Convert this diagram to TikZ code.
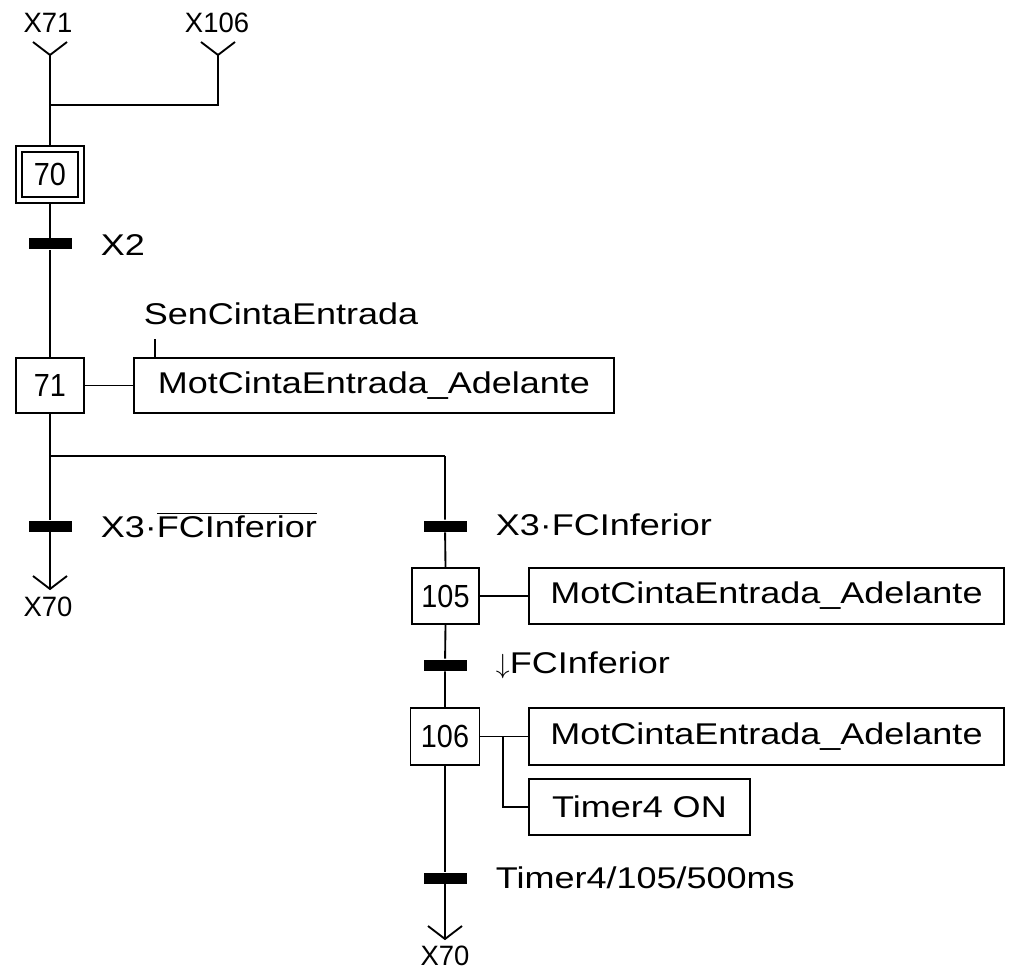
\documentclass[tikz,border=0pt]{standalone}
\usepackage{fontspec}
\setmainfont[FakeStretch=1.2]{Liberation Sans}
\newfontfamily\stepfont[FakeStretch=0.9]{Liberation Sans}
\newfontfamily\labfont[FakeStretch=0.98]{Liberation Sans}
\newcommand{\mainsize}{\fontsize{22.5}{27}\selectfont}
\newcommand{\ovl}[1]{$\overline{\mbox{#1}}$}
\begin{document}
\begin{tikzpicture}[x=0.75pt,y=-0.75pt,line width=1.4pt,
  stepbox/.style={draw,inner sep=0pt,minimum width=68*.75pt,minimum height=56*.75pt,
    font=\stepfont\fontsize{24}{24}\selectfont},
  actbox/.style={draw,inner sep=0pt,minimum height=56*.75pt,anchor=west,font=\mainsize},
  trbar/.style={fill=black,draw=none,inner sep=0pt,minimum width=43*.75pt,minimum height=11*.75pt},
  cond/.style={anchor=west,inner sep=0pt,font=\mainsize},
  xlab/.style={inner sep=0pt,font=\labfont\fontsize{21}{22}\selectfont}]
\useasboundingbox (0,0) rectangle (1009,973);
% top convergence
\node[xlab] (x71) at (48,23) {X71};
\node[xlab] (x106) at (217,23) {X106};
\coordinate (v1) at (50,55);
\coordinate (v2) at (218,55);
\coordinate (j1) at (50,105);
\draw (v1) ++(-17,-13) -- (v1) -- ++(17,-13);
\draw (v2) ++(-17,-13) -- (v2) -- ++(17,-13);
\draw (v2) |- (j1);
% step 70 (initial)
\node[stepbox,minimum width=68*.75pt,minimum height=57*.75pt] (s70) at (50,174.5) {};
\node[stepbox,minimum width=56*.75pt,minimum height=45*.75pt,line width=1.1pt] (s70i) at (s70.center) {70};
\draw (v1) -- (s70.north);
% transition X2
\node[trbar] (t1) at (50,244) {};
\node[cond] (c1) at (100,245) {X2};
% step 71
\node[stepbox,minimum height=55*.75pt] (s71) at (50,385.5) {71};
\draw (s70.south) -- (t1) -- (s71.north);
\node[actbox,minimum width=480*.75pt,minimum height=55*.75pt] (a71) at (133,385.5) {MotCintaEntrada\_Adelante};
\draw (s71.east) -- (a71.west);
\node[cond] (sen) at (143,314) {SenCintaEntrada};
\draw ([xshift=22*.75pt]a71.north west) -- ++(0,-18);
% divergence
\coordinate (d1) at (50,456);
\coordinate (d2) at (445,456);
\node[trbar] (t2) at (50,526) {};
\node[cond] (c2) at (100,525) {X3·\ovl{FCInferior}};
\coordinate (e1) at (50,589);
\draw (s71.south) -- (t2) -- (e1);
\draw (e1) ++(-17,-13) -- (e1) -- ++(17,-13);
\node[xlab] (x70a) at (48,607) {X70};
\draw (d1) -- (d2);
% right branch
\node[trbar] (t3) at (445,526) {};
\node[cond] (c3) at (495,525) {X3·FCInferior};
\node[stepbox,minimum width=67*.75pt] (s105) at (445.5,596) {105};
\draw (d2) -- (t3) -- (s105.north);
\node[actbox,minimum width=475*.75pt] (a105) at (528,596) {MotCintaEntrada\_Adelante};
\draw (s105.east) -- (a105.west);
\node[trbar] (t4) at (445,665) {};
\node[cond] (c4) at (495,665) {$\downarrow$FCInferior};
\node[stepbox,minimum width=69*.75pt,minimum height=57*.75pt] (s106) at (445,736.5) {106};
\draw (s105.south) -- (t4) -- (s106.north);
\node[actbox,minimum width=475*.75pt,minimum height=57*.75pt] (a106) at (528,736.5) {MotCintaEntrada\_Adelante};
\node[actbox,minimum width=221*.75pt] (a106b) at (528,807) {Timer4 ON};
\draw (s106.east) -- (a106.west);
\coordinate (k) at (503,736.5);
\draw (k) |- (a106b.west);
\node[trbar] (t5) at (445,878) {};
\node[cond] (c5) at (495,878) {Timer4/105/500ms};
\coordinate (e2) at (445,939);
\draw (s106.south) -- (t5) -- (e2);
\draw (e2) ++(-17,-13) -- (e2) -- ++(17,-13);
\node[xlab] (x70b) at (445,956) {X70};
\end{tikzpicture}
\end{document}
